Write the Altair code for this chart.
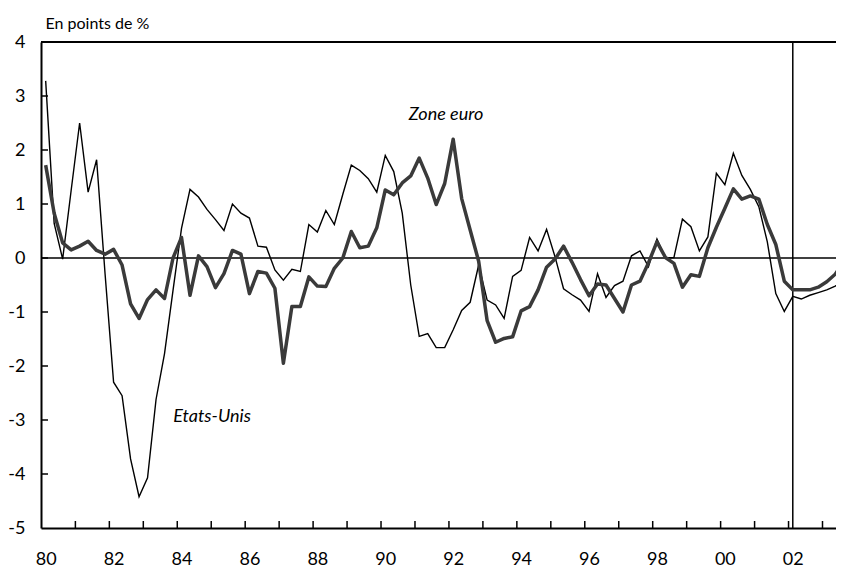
import altair as alt
import pandas as pd

# Quarterly series, 1980Q1 .. 2003Q3
us_values = [3.28, 0.64, -0.02, 1.25, 2.50, 1.22, 1.82, -0.30, -2.30, -2.55,
             -3.72, -4.42, -4.07, -2.62, -1.77, -0.60, 0.55, 1.27, 1.13, 0.90,
             0.71, 0.51, 1.00, 0.83, 0.74, 0.22, 0.20, -0.22, -0.41, -0.21,
             -0.25, 0.62, 0.48, 0.88, 0.62, 1.18, 1.72, 1.62, 1.47, 1.22,
             1.90, 1.60, 0.83, -0.50, -1.45, -1.40, -1.66, -1.66, -1.33, -0.97,
             -0.82, -0.13, -0.78, -0.87, -1.12, -0.34, -0.23, 0.38, 0.13, 0.53,
             0.02, -0.57, -0.68, -0.78, -0.99, -0.29, -0.73, -0.51, -0.43, 0.04,
             0.13, -0.16, 0.35, 0.00, 0.01, 0.72, 0.58, 0.13, 0.39, 1.57,
             1.36, 1.94, 1.53, 1.27, 0.95, 0.30, -0.66, -0.99, -0.71, -0.76,
             -0.69, -0.64, -0.59, -0.52, -0.43]

euro_values = [1.72, 0.83, 0.28, 0.15, 0.22, 0.31, 0.14, 0.07, 0.16, -0.13,
               -0.85, -1.12, -0.77, -0.59, -0.75, 0.00, 0.38, -0.69, 0.04, -0.16,
               -0.55, -0.29, 0.14, 0.07, -0.66, -0.25, -0.28, -0.56, -1.95, -0.90,
               -0.90, -0.35, -0.52, -0.53, -0.19, 0.00, 0.49, 0.19, 0.22, 0.56,
               1.26, 1.17, 1.39, 1.52, 1.85, 1.48, 0.99, 1.38, 2.20, 1.10,
               0.52, -0.06, -1.16, -1.56, -1.49, -1.46, -0.98, -0.90, -0.59, -0.17,
               -0.02, 0.22, -0.08, -0.40, -0.70, -0.48, -0.50, -0.75, -1.00, -0.50,
               -0.43, -0.09, 0.30, 0.01, -0.10, -0.54, -0.31, -0.34, 0.19, 0.57,
               0.92, 1.28, 1.09, 1.15, 1.09, 0.62, 0.25, -0.43, -0.59, -0.59,
               -0.59, -0.54, -0.44, -0.30, -0.07]

start_year = 1980
label_years = list(range(1980, 2003, 2))          # 80, 82, ..., 02
tick_years = [y + 0.875 for y in range(1980, 2003)]  # year boundaries
y_labels = [-5, -4, -3, -2, -1, 0, 1, 2, 3, 4]
y_ticks = [-4, -3, -2, -1, 0, 1, 2, 3]
forecast_start = 2002.0
annotations = pd.DataFrame({
    "t": [1991.79, 1984.9],
    "v": [2.65, -2.94],
    "label": ["Zone euro", "Etats-Unis"],
})

quarters = [start_year + i / 4 for i in range(len(us_values))]
df = pd.DataFrame({
    "t": quarters * 2,
    "v": us_values + euro_values,
    "serie": ["Etats-Unis"] * len(us_values) + ["Zone euro"] * len(euro_values),
})

W, H = 795, 486
FONT = "Lato"

xscale = alt.Scale(domain=[1979.8625, 2003.2725], nice=False, zero=False)
yscale = alt.Scale(domain=[-5, 4], nice=False, zero=False)

base = alt.Chart(df)

us_line = base.transform_filter(alt.datum.serie == "Etats-Unis").mark_line(
    color="#000000", strokeWidth=1.4, clip=True
).encode(
    x=alt.X("t:Q", scale=xscale,
            axis=alt.Axis(values=label_years, labelExpr="slice(toString(datum.value), 2)",
                          ticks=False, grid=False, domainColor="#000000", domainWidth=2,
                          labelFontSize=18, labelFont=FONT, labelColor="#000000",
                          labelPadding=22, title=None)),
    y=alt.Y("v:Q", scale=yscale,
            axis=alt.Axis(values=y_labels, labelExpr="toString(datum.value)",
                          ticks=False, grid=False,
                          domainColor="#000000", domainWidth=2,
                          labelFontSize=18, labelFont=FONT, labelColor="#000000",
                          labelPadding=16,
                          title="En points de %", titleAngle=0, titleAlign="left",
                          titleBaseline="middle", titleX=4, titleY=-19,
                          titleFont=FONT, titleFontSize=16, titleFontWeight="normal",
                          titleColor="#000000")),
)

euro_line = base.transform_filter(alt.datum.serie == "Zone euro").mark_line(
    color="#3a3a3a", strokeWidth=3.5, strokeJoin="round", clip=True
).encode(x=alt.X("t:Q", scale=xscale), y=alt.Y("v:Q", scale=yscale))

zero_rule = alt.Chart(pd.DataFrame({"v": [0]})).mark_rule(
    color="#000000", strokeWidth=1.5
).encode(y=alt.Y("v:Q", scale=yscale), x=alt.value(0), x2=alt.value(W))

top_rule = alt.Chart(pd.DataFrame({"v": [4]})).mark_rule(
    color="#000000", strokeWidth=2
).encode(y=alt.Y("v:Q", scale=yscale), x=alt.value(0), x2=alt.value(W))

vline = alt.Chart(pd.DataFrame({"t": [forecast_start]})).mark_rule(
    color="#000000", strokeWidth=1.5
).encode(x=alt.X("t:Q", scale=xscale), y=alt.value(0), y2=alt.value(H))

xticks = alt.Chart(pd.DataFrame({"t": tick_years})).mark_rule(
    color="#000000", strokeWidth=1.5
).encode(x=alt.X("t:Q", scale=xscale), y=alt.value(H), y2=alt.value(H - 7))

yticks = alt.Chart(pd.DataFrame({"v": y_ticks})).mark_rule(
    color="#000000", strokeWidth=1.5
).encode(y=alt.Y("v:Q", scale=yscale), x=alt.value(0), x2=alt.value(7))

labels = alt.Chart(annotations).mark_text(
    font=FONT, fontSize=18, fontStyle="italic", color="#000000",
    align="center", baseline="middle"
).encode(x=alt.X("t:Q", scale=xscale), y=alt.Y("v:Q", scale=yscale), text="label:N")

chart = alt.layer(
    zero_rule, top_rule, vline, xticks, yticks, us_line, euro_line, labels
).properties(
    width=W, height=H,
    autosize=alt.AutoSizeParams(type="none"),
    padding={"left": 33, "top": 34, "right": 0, "bottom": 40},
    background="#ffffff",
).configure_view(stroke=None)

chart.save("out.html", embed_options={"renderer": "svg", "actions": False})
